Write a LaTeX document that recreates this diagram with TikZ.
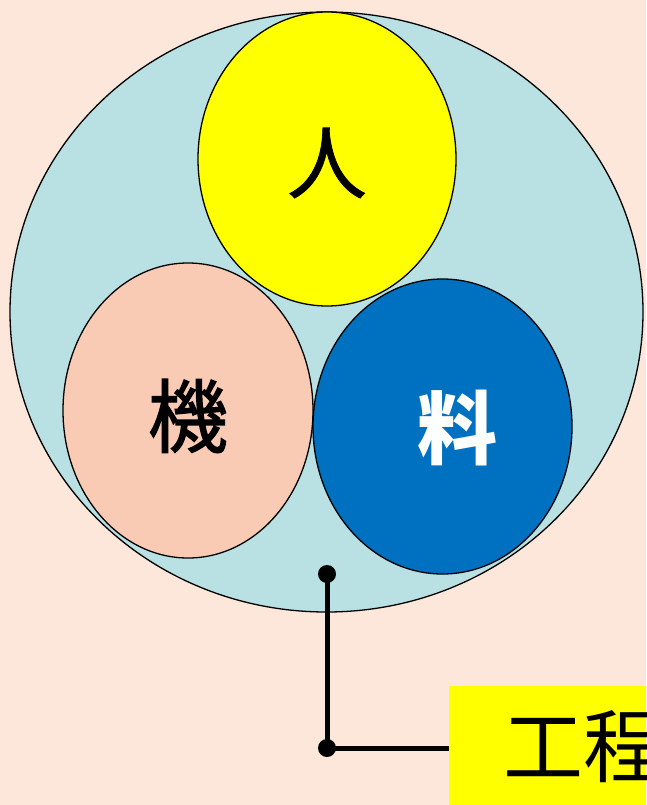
\documentclass[tikz,border=0pt]{standalone}
\usepackage{fontspec}
\newfontfamily\cjk{Noto Sans CJK JP}
\newfontfamily\cjkmed[FakeBold=1.6]{Noto Sans CJK JP}
\newfontfamily\cjklite[FakeBold=0.8]{Noto Sans CJK JP}
\usetikzlibrary{shapes.geometric}
\definecolor{bgpeach}{HTML}{FDE6DA}
\definecolor{outercyan}{HTML}{B9E0E3}
\definecolor{pinkfill}{HTML}{FACBB4}
\definecolor{bluefill}{HTML}{0070C0}
\definecolor{yel}{HTML}{FFFF00}
\tikzset{
  oval/.style={ellipse, draw=black, line width=1.3pt, inner sep=0pt},
  lbl/.style={font=\cjk\fontsize{80}{80}\selectfont},
  dotnode/.style={circle, fill=black, inner sep=0pt, minimum size=18pt},
  conn/.style={line width=5pt}
}
\begin{document}
\begin{tikzpicture}[x=1pt,y=-1pt]
\useasboundingbox (0,0) rectangle (646,805);
\clip (0,0) rectangle (646,805);
\fill[bgpeach] (0,0) rectangle (646,805);
\node[oval, fill=outercyan, minimum width=633pt, minimum height=600pt] (outer) at (326.5,312) {};
\node[oval, fill=yel, minimum width=258pt, minimum height=294pt] (ren) at (327,159) {};
\node[lbl, text=black, font=\cjklite\fontsize{80}{80}\selectfont] at (327,163) {人};
\node[oval, fill=pinkfill, minimum width=250pt, minimum height=295pt] (ji) at (188,410.5) {};
\node[lbl, text=black, font=\cjkmed\fontsize{80}{80}\selectfont] at (188,416) {機};
\node[oval, fill=bluefill, minimum width=259pt, minimum height=295pt] (liao) at (442.5,426.5) {};
\node[lbl, text=white, font=\cjk\bfseries\fontsize{80}{80}\selectfont] at (457,428) {料};
\node[fill=yel, anchor=north west, minimum width=260pt, minimum height=160pt, inner sep=0pt] (box) at (449,686) {};
\node[lbl, anchor=west, inner sep=0pt, text=black] (gc) at (503,747) {工程};
\node[dotnode] (d1) at (327,574) {};
\node[dotnode] (d2) at (327,748) {};
\draw[conn] (d1.center) -- (d2.center) -- (d2.center -| box.west);
\end{tikzpicture}
\end{document}
